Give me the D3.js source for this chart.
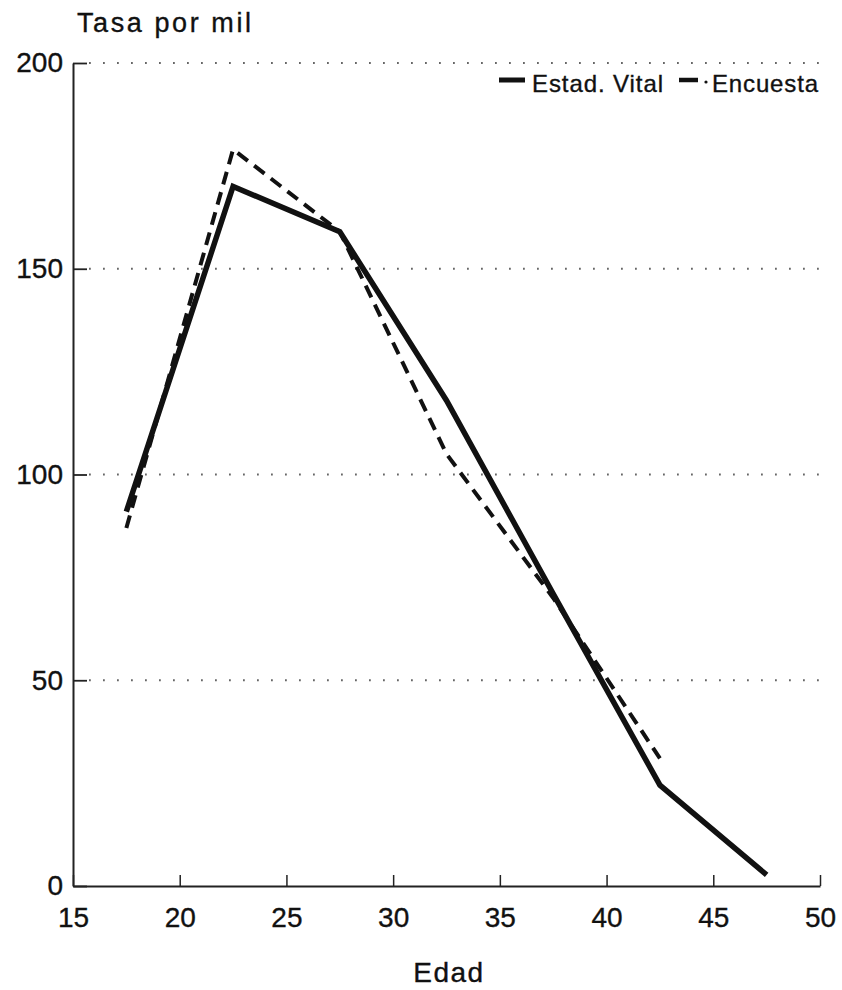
<!DOCTYPE html>
<html><head><meta charset="utf-8">
<script src="https://cdn.jsdelivr.net/npm/d3@7"></script>
<style>body{margin:0;background:#fff}svg{display:block}text{font-family:"Liberation Sans",Arial,sans-serif;fill:#111;stroke:#111;stroke-width:0.35px}</style>
</head><body><svg id="c" width="842" height="990"></svg>
<script>
const ages = [17.5, 22.5, 27.5, 32.5, 37.5, 42.5, 47.5];
const estadVital = [91, 170, 159, 118, 71, 24.5, 2.7];
const encuestaAges = [17.5, 22.5, 27.5, 32.5, 37.5, 42.5];
const encuesta = [87, 179, 159, 105, 70, 31];
const xTicks = [15, 20, 25, 30, 35, 40, 45, 50];
const yTicks = [0, 50, 100, 150, 200];
const seriesNames = ["Estad. Vital", "Encuesta"];

const svg = d3.select("#c");
const x = d3.scaleLinear().domain([15, 50]).range([73, 820]);
const y = d3.scaleLinear().domain([0, 200]).range([886, 63]);
const FONT = "Liberation Sans, Arial, sans-serif";

// grid
svg.append("g").selectAll("line").data(yTicks.filter(d => d > 0)).join("line")
  .attr("x1", x(15) + 16).attr("x2", x(50)).attr("y1", d => y(d)).attr("y2", d => y(d))
  .attr("stroke", "#666").attr("stroke-width", 1.8).attr("stroke-dasharray", "1.8,12.2");

// x axis
const xa = svg.append("g").attr("transform", `translate(0,${y(0)})`)
  .call(d3.axisBottom(x).tickValues(xTicks).tickSizeInner(-11).tickSizeOuter(0).tickPadding(21));
xa.select(".domain").attr("stroke", "#222").attr("stroke-width", 2);
xa.selectAll(".tick line").attr("stroke", "#222").attr("stroke-width", 1.5);
xa.selectAll("text").attr("font-size", 28).attr("fill", "#111").attr("font-family", FONT);

// y axis
const ya = svg.append("g").attr("transform", `translate(${x(15)},0)`)
  .call(d3.axisLeft(y).tickValues(yTicks).tickSizeInner(-14).tickSizeOuter(0).tickPadding(10));
ya.select(".domain").attr("stroke", "#222").attr("stroke-width", 2);
ya.selectAll(".tick line").attr("stroke", "#222").attr("stroke-width", 1.8);
ya.selectAll("text").attr("font-size", 28).attr("fill", "#111").attr("font-family", FONT);

// titles
svg.append("text").attr("x", 77).attr("y", 32).attr("font-size", 27)
  .attr("textLength", 174).attr("lengthAdjust", "spacing").text("Tasa por mil");
svg.append("text").attr("x", 449).attr("y", 982).attr("text-anchor", "middle").attr("font-size", 28)
  .attr("letter-spacing", 1.5).text("Edad");

// lines
const line = d3.line().x(d => x(d[0])).y(d => y(d[1]));
svg.append("path").datum(encuestaAges.map((a, i) => [a, encuesta[i]]))
  .attr("d", line).attr("fill", "none").attr("stroke", "#111").attr("stroke-width", 4)
  .attr("stroke-dasharray", "13,8");
svg.append("path").datum(ages.map((a, i) => [a, estadVital[i]]))
  .attr("d", line).attr("fill", "none").attr("stroke", "#111").attr("stroke-width", 5.5)
  .attr("stroke-linejoin", "miter");

// legend
const lg = svg.append("g");
lg.append("line").attr("x1", 499).attr("x2", 525).attr("y1", 80).attr("y2", 80).attr("stroke", "#111").attr("stroke-width", 5);
lg.append("text").attr("x", 532).attr("y", 92).attr("font-size", 24)
  .attr("textLength", 131).attr("lengthAdjust", "spacing").text(seriesNames[0]);
lg.append("line").attr("x1", 679).attr("x2", 698).attr("y1", 80).attr("y2", 80).attr("stroke", "#111").attr("stroke-width", 4.5);
lg.append("circle").attr("cx", 706).attr("cy", 82).attr("r", 1.6).attr("fill", "#111");
lg.append("text").attr("x", 712).attr("y", 92).attr("font-size", 24)
  .attr("textLength", 106).attr("lengthAdjust", "spacing").text(seriesNames[1]);
</script></body></html>
